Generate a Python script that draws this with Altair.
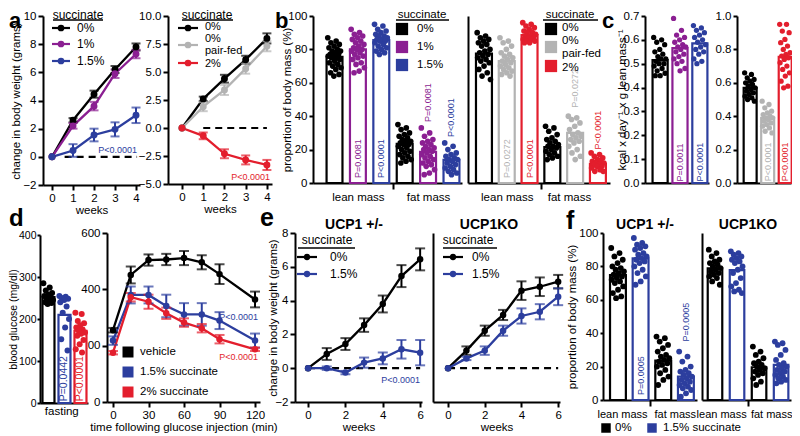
import altair as alt
import pandas as pd

FONT = "Liberation Sans"
W, H = 784, 428
K, PU, BL, GR, RD = "#000000", "#8b1f92", "#2c3e9e", "#b3b3b3", "#e31e2d"

# ---------------- data ----------------
# a: change in body weight (g) over weeks
a_weeks = [0, 1, 2, 3, 4]
a1_s0 = [0, 2.6, 4.45, 6.2, 7.8]
a1_s0_err = [0, 0.15, 0.25, 0.25, 0.25]
a1_s1 = [0, 2.2, 3.6, 5.9, 7.3]
a1_s1_err = [0, 0.2, 0.3, 0.3, 0.3]
a1_s15 = [0, 0.45, 1.55, 1.95, 2.95]
a1_s15_err = [0, 0.45, 0.45, 0.5, 0.55]
a2_s0 = [0, 2.6, 4.4, 6.1, 8.0]
a2_s0_err = [0, 0.2, 0.35, 0.35, 0.45]
a2_pf = [0, 1.9, 3.4, 5.3, 7.3]
a2_pf_err = [0, 0.4, 0.45, 0.45, 0.45]
a2_s2 = [0, -0.7, -2.3, -2.85, -3.3]
a2_s2_err = [0, 0.3, 0.4, 0.4, 0.45]

# b: proportion of body mass (%), lean x3 then fat x3
b1_means = [75.5, 80.0, 85.5, 23.5, 18.6, 13.8]
b1_dots = [
    [87, 85, 84, 83, 82, 81, 80, 79, 79, 78, 77, 77, 76, 76, 75, 75, 74, 73, 72, 71, 70, 69, 68, 66, 65, 64],
    [92, 90, 89, 88, 87, 86, 85, 84, 83, 82, 81, 80, 80, 79, 78, 77, 76, 75, 74, 72, 71, 69, 67, 66],
    [95, 94, 92, 91, 90, 89, 88, 88, 87, 86, 86, 85, 85, 84, 83, 82, 81, 80, 79, 78, 77],
    [35, 33, 32, 30, 29, 28, 27, 26, 25, 25, 24, 23, 23, 22, 21, 20, 19, 18, 17, 16, 15, 14, 13, 12],
    [33, 30, 28, 26, 25, 24, 23, 22, 21, 20, 20, 19, 18, 17, 16, 15, 14, 13, 12, 11, 10, 8, 6, 5],
    [24, 22, 20, 18, 17, 16, 15, 14, 14, 13, 12, 11, 10, 9, 8, 7, 6, 5],
]
b2_means = [77.5, 73.0, 88.6, 21.5, 30.0, 11.5]
b2_dots = [
    [90, 88, 87, 86, 85, 84, 83, 82, 80, 79, 78, 77, 76, 75, 74, 73, 72, 70, 68, 66, 64, 62],
    [87, 85, 84, 82, 80, 78, 77, 76, 75, 74, 73, 72, 71, 70, 69, 68, 67, 66, 65, 64],
    [96, 95, 94, 93, 92, 91, 90, 90, 89, 88, 88, 87, 87, 86, 86, 85, 85, 84, 84],
    [34, 33, 31, 29, 27, 26, 25, 24, 23, 22, 22, 21, 20, 19, 18, 17, 16, 15, 14],
    [40, 39, 38, 36, 34, 32, 30, 29, 28, 27, 26, 25, 24, 22, 20, 18, 16, 14],
    [18, 17, 16, 15, 14, 13, 13, 12, 12, 11, 11, 10, 10, 9, 8, 7, 7],
]

# c: kcal x day-1 x g lean mass-1
c1_means = [0.515, 0.565, 0.585]
c1_dots = [
    [0.61, 0.60, 0.59, 0.58, 0.56, 0.55, 0.54, 0.53, 0.52, 0.52, 0.51, 0.50, 0.50, 0.49, 0.48, 0.47, 0.46, 0.45, 0.45],
    [0.69, 0.64, 0.62, 0.61, 0.60, 0.59, 0.58, 0.57, 0.57, 0.56, 0.55, 0.54, 0.53, 0.52, 0.51, 0.50, 0.48, 0.47],
    [0.66, 0.65, 0.64, 0.63, 0.62, 0.61, 0.60, 0.59, 0.58, 0.57, 0.56, 0.55, 0.54, 0.52, 0.51, 0.50],
]
c2_means = [0.57, 0.39, 0.755]
c2_dots = [
    [0.66, 0.65, 0.63, 0.62, 0.61, 0.60, 0.59, 0.58, 0.57, 0.56, 0.55, 0.54, 0.53, 0.52, 0.51, 0.50, 0.49],
    [0.49, 0.47, 0.45, 0.43, 0.42, 0.41, 0.40, 0.39, 0.39, 0.38, 0.37, 0.36, 0.35, 0.34, 0.33, 0.31, 0.30],
    [0.95, 0.95, 0.91, 0.90, 0.86, 0.84, 0.82, 0.80, 0.78, 0.77, 0.76, 0.75, 0.74, 0.72, 0.70, 0.68, 0.66, 0.64, 0.61, 0.58, 0.57],
]

# d: blood glucose (mg/dl)
d1_means = [252, 210, 172]
d1_dots = [
    [285, 275, 268, 262, 258, 255, 252, 248, 245, 242, 240, 238, 236],
    [255, 253, 250, 248, 245, 240, 230, 215, 200, 180, 152, 125],
    [215, 212, 195, 190, 185, 180, 175, 172, 168, 165, 160, 150, 140, 128, 120],
]
d_times = [0, 15, 30, 45, 60, 75, 90, 120]
d_vehicle = [255, 451, 504, 506, 511, 496, 454, 364]
d_vehicle_err = [8, 30, 20, 20, 25, 25, 35, 28]
d_s15 = [218, 380, 380, 341, 311, 311, 289, 218]
d_s15_err = [15, 30, 30, 40, 40, 40, 30, 25]
d_s2 = [175, 372, 356, 315, 282, 262, 223, 187]
d_s2_err = [6, 15, 25, 20, 15, 15, 15, 6]

# e: change in body weight (g), UCP1 +/- and UCP1KO
e_weeks = [0, 1, 2, 3, 4, 5, 6]
e1_s0 = [0, 0.84, 1.43, 2.55, 3.8, 5.45, 6.44]
e1_s0_err = [0, 0.35, 0.35, 0.4, 0.5, 0.65, 0.65]
e1_s15 = [0, 0.0, -0.26, 0.33, 0.58, 1.12, 0.92]
e1_s15_err = [0, 0.1, 0.1, 0.3, 0.35, 0.55, 0.75]
e2_s0 = [0, 1.04, 2.22, 3.15, 4.59, 4.82, 5.12]
e2_s0_err = [0, 0.25, 0.3, 0.3, 0.55, 0.55, 0.4]
e2_s15 = [0, 0.58, 1.04, 2.22, 3.09, 3.34, 4.23]
e2_s15_err = [0, 0.1, 0.25, 0.3, 0.45, 0.45, 0.5]

# f: proportion of body mass (%), lean 0%, lean 1.5%, fat 0%, fat 1.5%
f1_means = [74.8, 84.8, 23.6, 14.0]
f1_dots = [
    [91, 88, 86, 84, 82, 80, 79, 78, 77, 76, 75, 74, 73, 72, 71, 70, 68, 66, 64, 62, 61],
    [97, 94, 93, 92, 91, 90, 88, 87, 86, 85, 84, 83, 82, 80, 78, 76, 74, 71, 69],
    [38, 37, 35, 33, 31, 29, 27, 26, 25, 24, 23, 22, 21, 20, 18, 16, 14, 12, 9],
    [29, 26, 23, 20, 18, 17, 16, 15, 14, 13, 12, 11, 10, 9, 8, 7, 6, 4, 2],
]
f2_means = [78.8, 77.8, 19.6, 21.0]
f2_dots = [
    [90, 88, 86, 84, 83, 82, 81, 80, 79, 78, 77, 76, 75, 74, 73, 71, 69],
    [89, 88, 87, 86, 85, 84, 83, 82, 80, 78, 76, 73, 70, 68, 66, 65, 64],
    [32, 29, 27, 25, 23, 22, 21, 20, 19, 18, 17, 16, 15, 13, 11, 9],
    [35, 34, 33, 30, 27, 24, 22, 21, 20, 19, 18, 17, 16, 15, 14, 13, 12, 11, 10],
]

# ---------------- helpers ----------------
ONE = pd.DataFrame({"k": [0]})


def PX(p):
    return p - 8


def scale(dom, rng):
    return alt.Scale(domain=dom, range=[PX(r) for r in rng], nice=False, zero=False)


def axis(orient, pos, **kw):
    base = dict(domainColor=K, domainWidth=2, tickColor=K, tickWidth=2, tickSize=5,
                labelFont=FONT, labelFontSize=11.5, labelColor=K, labelPadding=2,
                labelFlush=False, labelOverlap=False, labelBound=False,
                titleFont=FONT, titleFontSize=11.5, titleFontWeight="normal", titleColor=K,
                titlePadding=1, grid=False, title="")
    base.update(kw)
    off = (PX(pos) - H) if orient == "bottom" else -PX(pos)
    return alt.Axis(orient=orient, offset=off, **base)


def yaxis_t(pos, title, title_center, **kw):
    return axis("left", pos, title=title, titleX=title_center - pos, titleBaseline="middle", **kw)


def line_panel(t, series, xs, ys, xax, yax, zero_x=None, ptexts=(), psize=48, cap=9):
    rows = []
    for color, m, e in series:
        for ti, mi, ei in zip(t, m, e):
            rows.append({"t": ti, "m": mi, "lo": mi - ei, "hi": mi + ei, "c": color, "e": ei})
    df = pd.DataFrame(rows)
    col = alt.Color("c:N", scale=None)
    xe = alt.X("t:Q", scale=xs, axis=xax)
    layers = []
    if zero_x is not None:
        zdf = pd.DataFrame({"x0": [zero_x[0]], "x1": [zero_x[1]], "y": [0]})
        layers.append(alt.Chart(zdf).mark_rule(color=K, strokeWidth=2.2, strokeDash=[7, 5]).encode(
            x=alt.X("x0:Q", scale=xs, axis=xax), x2="x1:Q", y=alt.Y("y:Q", scale=ys, axis=yax)))
    base = alt.Chart(df)
    eb = base.transform_filter("datum.e > 0")
    layers.append(base.mark_line(strokeWidth=2.3).encode(x=xe, y=alt.Y("m:Q", scale=ys, axis=yax), color=col))
    layers.append(eb.mark_rule(strokeWidth=2).encode(x=xe, y=alt.Y("lo:Q", scale=ys, axis=yax), y2="hi:Q", color=col))
    for f in ("lo", "hi"):
        layers.append(eb.mark_tick(orient="horizontal", size=cap, thickness=2).encode(
            x=xe, y=alt.Y(f + ":Q", scale=ys, axis=yax), color=col))
    layers.append(base.mark_circle(size=psize, opacity=1).encode(x=xe, y=alt.Y("m:Q", scale=ys, axis=yax), color=col))
    for (px_, py_, s, c) in ptexts:
        pdf = pd.DataFrame({"x": [px_], "y": [py_], "s": [s]})
        layers.append(alt.Chart(pdf).mark_text(font=FONT, fontSize=9, color=c, align="right", baseline="middle").encode(
            x=alt.X("x:Q", scale=xs, axis=xax), y=alt.Y("y:Q", scale=ys, axis=yax), text="s:N"))
    return alt.layer(*layers)


def bar_panel(means, colors, dots, xs, ys, xax, yax, hw, dsize, ptexts, pfont=9):
    pos = list(range(1, len(means) + 1))
    bdf = pd.DataFrame({"p": pos, "m": means, "c": colors})
    rows = []
    for p, c, vals in zip(pos, colors, dots):
        for i, v in enumerate(vals):
            rows.append({"x": p + ((i * 0.618034) % 1.0 - 0.5) * 1.7 * hw, "v": v, "c": c})
    ddf = pd.DataFrame(rows)
    bars = alt.Chart(bdf).transform_calculate(
        x0=f"datum.p - {hw}", x1=f"datum.p + {hw}", z="0"
    ).mark_bar(fill="white", strokeWidth=2.2, opacity=1).encode(
        x=alt.X("x0:Q", scale=xs, axis=xax), x2="x1:Q",
        y=alt.Y("m:Q", scale=ys, axis=yax), y2="z:Q",
        stroke=alt.Stroke("c:N", scale=None))
    pts = alt.Chart(ddf).mark_circle(size=dsize, opacity=1).encode(
        x=alt.X("x:Q", scale=xs, axis=xax), y=alt.Y("v:Q", scale=ys, axis=yax),
        color=alt.Color("c:N", scale=None))
    layers = [bars, pts]
    if ptexts:
        pdf = pd.DataFrame([{"p": p, "y": y, "s": s, "c": c} for (p, y, s, c) in ptexts])
        layers.append(alt.Chart(pdf).mark_text(font=FONT, fontSize=pfont, angle=270, align="left", baseline="middle").encode(
            x=alt.X("p:Q", scale=xs, axis=xax), y=alt.Y("y:Q", scale=ys, axis=yax), text="s:N",
            color=alt.Color("c:N", scale=None)))
    return alt.layer(*layers)


def txt(s, x, y, size=12, color=K, weight="normal", align="left", baseline="middle", angle=0):
    return alt.Chart(pd.DataFrame({"s": [s]})).mark_text(
        font=FONT, fontSize=size, color=color, fontWeight=weight, align=align,
        baseline=baseline, angle=angle).encode(text="s:N", x=alt.value(PX(x)), y=alt.value(PX(y)))


def seg(x0, x1, y, color=K, w=2):
    return alt.Chart(ONE).mark_rule(color=color, strokeWidth=w).encode(
        x=alt.value(PX(x0)), x2=alt.value(PX(x1)), y=alt.value(PX(y)))


def dot(x, y, color, size=45):
    return alt.Chart(ONE).mark_circle(color=color, size=size, opacity=1).encode(
        x=alt.value(PX(x)), y=alt.value(PX(y)))


def sq(x, y, color, size):
    return alt.Chart(ONE).mark_square(color=color, size=size, opacity=1).encode(
        x=alt.value(PX(x)), y=alt.value(PX(y)))


def sep_color(test):
    return {"condition": {"test": test, "value": K}, "value": "transparent"}


layers = []

# ---------------- panel a ----------------
xs = scale([-0.43, 4.19], [43, 140]); ys = scale([-2, 10], [185, 16])
layers.append(line_panel(a_weeks, [(K, a1_s0, a1_s0_err), (PU, a1_s1, a1_s1_err), (BL, a1_s15, a1_s15_err)],
                         xs, ys,
                         axis("bottom", 185, values=[0, 1, 2, 3, 4], format="d", title="weeks"),
                         yaxis_t(43, "change in body weight (grams)", 16, values=[-2, 0, 2, 4, 6, 8, 10], format="d"),
                         zero_x=[0.6, 4.05], ptexts=[(4.05, 0.5, "P<0.0001", BL)]))
xs = scale([-0.66, 4.24], [168, 272]); ys = scale([-5, 10], [184, 16])
layers.append(line_panel(a_weeks, [(K, a2_s0, a2_s0_err), (GR, a2_pf, a2_pf_err), (RD, a2_s2, a2_s2_err)],
                         xs, ys,
                         axis("bottom", 184, values=[0, 1, 2, 3, 4], format="d", title="weeks"),
                         axis("left", 168, values=[-5, -2.5, 0, 2.5, 5, 7.5, 10], format=".1f"),
                         zero_x=[1.0, 4.0], ptexts=[(4.15, -4.4, "P<0.0001", RD)]))

# ---------------- panel b ----------------
xs = scale([0.08, 6.45], [313, 462]); ys = scale([0, 100], [183, 16])
layers.append(bar_panel(b1_means, [K, PU, BL, K, PU, BL], b1_dots, xs, ys,
                        axis("bottom", 183, values=[2, 3.5, 5], tickSize=6,
                             labelExpr="datum.value == 2 ? 'lean mass' : datum.value == 5 ? 'fat mass' : ''",
                             tickColor=sep_color("datum.value == 3.5")),
                        yaxis_t(313, "proportion of body mass (%)", 287, values=[0, 20, 40, 60, 80, 100],
                                format="d", tickSize=4),
                        0.34, 32,
                        [(2, 3, "P=0.0081", PU), (3, 3, "P<0.0001", BL),
                         (5, 36.5, "P=0.0081", PU), (6, 27.5, "P<0.0001", BL)]))
xs = scale([0.30, 6.53], [468, 610])
layers.append(bar_panel(b2_means, [K, GR, RD, K, GR, RD], b2_dots, xs, ys,
                        axis("bottom", 183, values=[2, 3.5, 4.73], tickSize=6,
                             labelExpr="datum.value == 2 ? 'lean mass' : datum.value > 4 ? 'fat mass' : ''",
                             tickColor=sep_color("datum.value == 3.5")),
                        axis("left", 468, ticks=False, labels=False),
                        0.35, 32,
                        [(2, 3, "P=0.0272", GR), (3, 3, "P<0.0001", RD),
                         (5, 45, "P=0.0272", GR), (6, 20, "P<0.0001", RD)]))

# ---------------- panel c ----------------
xs = scale([0.24, 3.46], [645, 709]); ys = scale([0, 0.7], [183, 16])
layers.append(bar_panel(c1_means, [K, PU, BL], c1_dots, xs, ys,
                        axis("bottom", 183, ticks=False, labels=False),
                        yaxis_t(645, "kcal x day\u207b\u00b9 x g lean mass\u207b\u00b9", 622,
                                values=[0, 0.1, 0.2, 0.3, 0.4, 0.5, 0.6, 0.7], format=".1f", tickSize=4),
                        0.38, 28,
                        [(2, 0.006, "P=0.0011", PU), (3, 0.006, "P<0.0001", BL)]))
xs = scale([0.25, 3.33], [737, 791]); ys = scale([0, 1.0], [183, 16])
layers.append(bar_panel(c2_means, [K, GR, RD], c2_dots, xs, ys,
                        axis("bottom", 183, ticks=False, labels=False),
                        axis("left", 737, values=[0, 0.2, 0.4, 0.6, 0.8, 1.0], format=".1f", tickSize=4),
                        0.37, 28,
                        [(2, 0.01, "P<0.0001", GR), (3, 0.01, "P<0.0001", RD)]))

# ---------------- panel d ----------------
xs = scale([0.47, 3.47], [40, 88]); ys = scale([0, 400], [403, 235])
layers.append(bar_panel(d1_means, [K, BL, RD], d1_dots, xs, ys,
                        axis("bottom", 403, values=[1.8], ticks=False, labelExpr="'fasting'"),
                        yaxis_t(40, "blood glucose (mg/dl)", 13.5, values=[0, 100, 200, 300, 400], format="d",
                                tickSize=3, labelPadding=1, labelFontSize=10.5, titleFontSize=10.5),
                        0.375, 36,
                        [(2, 4, "P=0.0442", BL), (3, 4, "P<0.0001", RD)], pfont=10.5))
xs = scale([-5.07, 124.2], [107, 260]); ys = scale([0, 600], [402, 233])
layers.append(line_panel(d_times, [(K, d_vehicle, d_vehicle_err), (BL, d_s15, d_s15_err), (RD, d_s2, d_s2_err)],
                         xs, ys,
                         axis("bottom", 402, values=[0, 30, 60, 90, 120], format="d",
                              title="time following glucose injection (min)"),
                         axis("left", 107, values=[0, 200, 400, 600], format="d"),
                         ptexts=[(122.5, 302, "P<0.0001", BL), (122.5, 160, "P<0.0001", RD)],
                         psize=42, cap=10))

# ---------------- panel e ----------------
xs = scale([-0.7, 6.1], [295, 422]); ys = scale([-2, 8], [402, 233])
layers.append(line_panel(e_weeks, [(K, e1_s0, e1_s0_err), (BL, e1_s15, e1_s15_err)], xs, ys,
                         axis("bottom", 402, values=[0, 2, 4, 6], format="d", title="weeks"),
                         yaxis_t(295, "change in body weight (grams)", 273, values=[-2, 0, 2, 4, 6, 8], format="d"),
                         zero_x=[0, 6], ptexts=[(6.0, -0.7, "P<0.0001", BL)], psize=42, cap=10))
xs = scale([-0.82, 6.1], [433, 560])
layers.append(line_panel(e_weeks, [(K, e2_s0, e2_s0_err), (BL, e2_s15, e2_s15_err)], xs, ys,
                         axis("bottom", 402, values=[0, 2, 4, 6], format="d", title="weeks"),
                         axis("left", 433, ticks=False, labels=False),
                         zero_x=[0, 6], psize=42, cap=10))

# ---------------- panel f ----------------
xs = scale([0.34, 4.49], [603, 697]); ys = scale([0, 100], [400, 233])
layers.append(bar_panel(f1_means, [K, BL, K, BL], f1_dots, xs, ys,
                        axis("bottom", 400, values=[1.18, 2.41, 3.51], tickSize=6, labelFontSize=11,
                             labelExpr="datum.value < 2 ? 'lean mass' : datum.value > 3 ? 'fat mass' : ''",
                             tickColor=sep_color("datum.value > 2 && datum.value < 3")),
                        yaxis_t(603, "proportion of body mass (%)", 572, values=[0, 20, 40, 60, 80, 100],
                                format="d", tickSize=3),
                        0.35, 34,
                        [(2, 3, "P=0.0005", BL), (4, 35, "P=0.0005", BL)]))
xs = scale([0.41, 4.45], [702, 791])
layers.append(bar_panel(f2_means, [K, BL, K, BL], f2_dots, xs, ys,
                        axis("bottom", 400, values=[1.28, 2.5, 3.55], tickSize=6, labelFontSize=11,
                             labelExpr="datum.value < 2 ? 'lean mass' : datum.value > 3 ? 'fat mass' : ''",
                             tickColor=sep_color("datum.value > 2 && datum.value < 3")),
                        axis("left", 702, ticks=False, labels=False),
                        0.33, 34, []))

# ---------------- letters, titles, legends ----------------
for s, x, y, sz in [("a", 9, 28, 22), ("b", 275, 28, 22), ("c", 602, 28, 22),
                    ("d", 9, 226, 24), ("e", 260, 226, 25), ("f", 566, 229, 25)]:
    layers.append(txt(s, x, y, size=sz, weight="bold", baseline="alphabetic"))

for s, x in [("UCP1 +/-", 354), ("UCP1KO", 489), ("UCP1 +/-", 645), ("UCP1KO", 748)]:
    layers.append(txt(s, x, 225, size=14, weight="bold", align="center"))

# a legends
layers += [txt("succinate", 78, 14.5, align="center"), seg(53, 103, 20, w=1.5)]
for (c, y, s) in [(K, 28, "0%"), (PU, 44, "1%"), (BL, 61, "1.5%")]:
    layers += [seg(52, 70, y, c, 2.2), dot(61, y, c), txt(s, 77, y)]
layers += [txt("succinate", 207, 14.5, align="center"), seg(182, 233, 20, w=1.5)]
for (c, y) in [(K, 28), (GR, 45), (RD, 63)]:
    layers += [seg(178, 198, y, c, 2.2), dot(188, y, c)]
for (s, y) in [("0%", 27), ("0%", 39), ("pair-fed", 51), ("2%", 64)]:
    layers.append(txt(s, 205, y, size=11))

# b legends
layers += [txt("succinate", 422, 14.5, size=11.5, align="center"), seg(396, 449, 20, w=1.5)]
for (c, y, s) in [(K, 29, "0%"), (PU, 47, "1%"), (BL, 65, "1.5%")]:
    layers += [sq(402, y, c, 150), txt(s, 417, y, size=11.5)]
layers += [txt("succinate", 570, 14.5, size=11.5, align="center"), seg(543, 598, 20, w=1.5)]
for (c, y) in [(K, 29), (GR, 47), (RD, 66)]:
    layers.append(sq(551, y, c, 150))
for (s, y) in [("0%", 28), ("0%", 41), ("pair-fed", 54), ("2%", 68)]:
    layers.append(txt(s, 562, y, size=11.5))

# d legend
for (c, y, s) in [(K, 352, "vehicle"), (BL, 372, "1.5% succinate"), (RD, 392, "2% succinate")]:
    layers += [sq(128, y, c, 121), txt(s, 140, y, size=11.5)]

# e legends
for (cx, x0, x1, xd, xl) in [(327, 298, 355, 307, 330), (468, 443, 497, 453, 472)]:
    layers += [txt("succinate", cx, 240, align="center"), seg(x0, x1, 248, w=1.5)]
    for (c, y, s) in [(K, 257, "0%"), (BL, 274, "1.5%")]:
        layers += [seg(xd - 10, xd + 10, y, c, 2.2), dot(xd, y, c, 40), txt(s, xl, y)]

# f legend
layers += [sq(606, 428, K, 90), txt("0%", 615, 428, size=11.5),
           sq(652, 428, BL, 90), txt("1.5% succinate", 663, 428, size=11.5)]

chart = alt.layer(*layers).resolve_scale(
    x="independent", y="independent"
).properties(
    width=W, height=H, padding=0, autosize=alt.AutoSizeParams(type="none")
).configure_view(strokeWidth=0)

chart.save("out.html", embed_options={"renderer": "svg", "actions": False})
